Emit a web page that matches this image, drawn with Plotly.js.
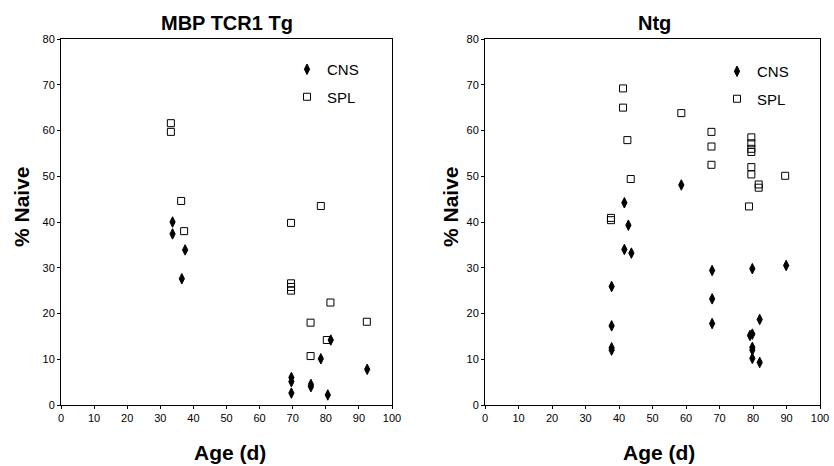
<!DOCTYPE html>
<html>
<head>
<meta charset="utf-8">
<script src="https://cdn.plot.ly/plotly-3.0.1.min.js"></script>
<style>html,body{margin:0;padding:0;background:#fff;}#chart{width:834px;height:466px;}</style>
</head>
<body>
<div id="chart"></div>
<script>
// MBP TCR1 Tg panel
var tgCnsAge   = [33.7, 33.7, 37.5, 36.5, 69.6, 69.6, 69.6, 75.5, 75.5, 78.5, 81.5, 80.6, 92.5];
var tgCnsNaive = [40.0, 37.4, 33.9, 27.6, 6.0, 5.1, 2.6, 4.5, 4.0, 10.1, 14.2, 2.2, 7.8];
var tgSplAge   = [33.2, 33.2, 36.3, 37.2, 69.5, 69.5, 69.5, 69.5, 78.5, 81.4, 75.4, 75.4, 80.3, 92.4];
var tgSplNaive = [61.6, 59.7, 44.6, 38.0, 39.8, 26.6, 25.8, 25.0, 43.5, 22.4, 18.0, 10.7, 14.2, 18.2];
// Ntg panel
var ntgCnsAge   = [37.8, 37.8, 37.8, 37.8, 41.6, 42.8, 41.6, 43.7, 58.6, 67.8, 67.8, 67.8, 79.8, 82.0, 79.1, 79.8, 79.8, 79.8, 79.8, 82.0, 89.9];
var ntgCnsNaive = [25.9, 17.3, 12.5, 12.0, 44.2, 39.3, 34.0, 33.2, 48.1, 29.4, 23.2, 17.8, 29.8, 18.7, 15.2, 15.5, 12.6, 12.0, 10.2, 9.3, 30.5];
var ntgSplAge   = [41.2, 41.2, 42.5, 43.5, 37.6, 37.6, 58.6, 67.6, 67.6, 67.6, 79.5, 79.5, 79.5, 79.5, 79.5, 79.5, 81.7, 81.7, 78.8, 89.6];
var ntgSplNaive = [69.2, 65.0, 57.9, 49.4, 40.9, 40.4, 63.8, 59.7, 56.5, 52.5, 58.5, 57.2, 56.0, 55.3, 52.0, 50.4, 48.2, 47.5, 43.4, 50.1];

var panelTitles = ['MBP TCR1 Tg', 'Ntg'];
var seriesNames = ['CNS', 'SPL'];
var xTickVals = [0, 10, 20, 30, 40, 50, 60, 70, 80, 90, 100];
var yTickVals = [0, 10, 20, 30, 40, 50, 60, 70, 80];

var font = 'Arial, "Liberation Sans", sans-serif';
var cnsMarker = {symbol: 'diamond-tall', size: 7.5, color: '#000', line: {width: 1, color: '#000'}};
var splMarker = {symbol: 'square-open', size: 7, color: '#000', line: {width: 1, color: '#000'}};

var traces = [
  {x: tgCnsAge, y: tgCnsNaive, name: seriesNames[0], type: 'scatter', mode: 'markers', marker: cnsMarker, xaxis: 'x', yaxis: 'y', legend: 'legend', legendgroup: 'a'},
  {x: tgSplAge, y: tgSplNaive, name: seriesNames[1], type: 'scatter', mode: 'markers', marker: splMarker, xaxis: 'x', yaxis: 'y', legend: 'legend', legendgroup: 'b'},
  {x: ntgCnsAge, y: ntgCnsNaive, name: seriesNames[0], type: 'scatter', mode: 'markers', marker: cnsMarker, xaxis: 'x2', yaxis: 'y2', legend: 'legend2', legendgroup: 'c'},
  {x: ntgSplAge, y: ntgSplNaive, name: seriesNames[1], type: 'scatter', mode: 'markers', marker: splMarker, xaxis: 'x2', yaxis: 'y2', legend: 'legend2', legendgroup: 'd'}
];

function xax(dom, anchor) {
  return {domain: dom, anchor: anchor, range: [0, 100], tickvals: xTickVals, ticks: 'outside', ticklen: 3, tickwidth: 1, tickcolor: '#000',
    showline: true, linecolor: '#000', linewidth: 1, mirror: true, showgrid: false, zeroline: false,
    tickfont: {family: font, size: 11, color: '#000'}, fixedrange: true};
}
function yax(dom, anchor) {
  return {domain: dom, anchor: anchor, range: [0, 80], tickvals: yTickVals, ticks: 'outside', ticklen: 3, tickwidth: 1, tickcolor: '#000',
    showline: true, linecolor: '#000', linewidth: 1, mirror: true, showgrid: false, zeroline: false,
    tickfont: {family: font, size: 11, color: '#000'}, fixedrange: true};
}

var W = 834, H = 466;
function px(v) { return v / W; }
function py(v) { return 1 - v / H; }
var yDom = [py(405), py(39)];

function legendAt(xp, yp) {
  return {x: px(xp), y: py(yp), xanchor: 'left', yanchor: 'top', bgcolor: 'rgba(0,0,0,0)', borderwidth: 0,
    font: {family: font, size: 15, color: '#000'}, itemwidth: 30, traceorder: 'grouped', tracegroupgap: 5};
}

function ann(text, xp, yp, size, angle) {
  return {text: '<b>' + text + '</b>', x: px(xp), y: py(yp), xref: 'paper', yref: 'paper', xanchor: 'center', yanchor: 'middle',
    showarrow: false, textangle: angle || 0, font: {family: font, size: size, color: '#000'}};
}

var layout = {
  width: W, height: H,
  margin: {l: 0, r: 0, t: 0, b: 0},
  paper_bgcolor: '#fff', plot_bgcolor: '#fff',
  xaxis: xax([px(61), px(392)], 'y'),
  yaxis: yax(yDom, 'x'),
  xaxis2: xax([px(485), px(820)], 'y2'),
  yaxis2: yax(yDom, 'x2'),
  showlegend: true,
  legend: legendAt(287, 53),
  legend2: legendAt(717, 55),
  annotations: [
    ann(panelTitles[0], 227, 23, 20),
    ann(panelTitles[1], 654, 23, 20),
    ann('% Naive', 21, 207, 21, -90),
    ann('% Naive', 450, 207, 21, -90),
    ann('Age (d)', 230, 452, 21),
    ann('Age (d)', 659, 452, 21)
  ]
};

Plotly.newPlot('chart', traces, layout, {staticPlot: true, displayModeBar: false});
</script>
</body>
</html>
